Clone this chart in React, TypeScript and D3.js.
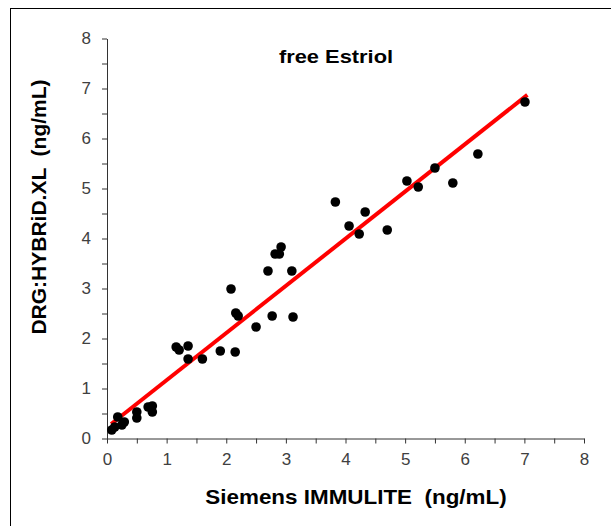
import { useEffect, useRef } from 'react';
import { select, scaleLinear, axisBottom, axisLeft, range, line } from 'd3';

// ============================================
// DATA
// ============================================

// Siemens IMMULITE (x) vs DRG:HYBRiD.XL (y), ng/mL
const immulite = [
  0.08, 0.13, 0.18, 0.25, 0.29, 0.5, 0.5, 0.69, 0.76, 0.76,
  1.16, 1.21, 1.36, 1.36, 1.6, 1.9, 2.15, 2.08, 2.16, 2.2,
  2.5, 2.7, 2.77, 2.82, 2.89, 2.92, 3.1, 3.12, 3.83, 4.06,
  4.23, 4.33, 4.7, 5.03, 5.22, 5.5, 5.8, 6.22, 7.01,
];
const hybrid = [
  0.17, 0.23, 0.43, 0.27, 0.33, 0.53, 0.41, 0.63, 0.65, 0.53,
  1.83, 1.77, 1.85, 1.59, 1.59, 1.75, 1.73, 2.99, 2.51, 2.45,
  2.23, 3.35, 2.45, 3.69, 3.69, 3.83, 3.35, 2.43, 4.73, 4.25,
  4.09, 4.53, 4.17, 5.15, 5.03, 5.41, 5.11, 5.69, 6.73,
];

// linear fit
const fitSlope = 0.943;
const fitIntercept = 0.224;
const fitFrom = 0.07;
const fitTo = 7.05;

const axisMax = 8;
const majorTicks = range(0, axisMax + 0.01, 1);
const minorTicks = range(0, axisMax + 0.01, 0.5);

const title = 'free Estriol';
const xTitle = 'Siemens IMMULITE  (ng/mL)';
const yTitle = 'DRG:HYBRiD.XL  (ng/mL)';

// ============================================
// COMPONENT
// ============================================

const W = 611;
const H = 526;
const FONT = '"Liberation Sans", Arial, sans-serif';
const STRETCH = 1.15;

export default function App() {
  const svgRef = useRef<SVGSVGElement>(null);

  useEffect(() => {
    if (!svgRef.current) return;
    const svg = select(svgRef.current);
    svg.selectAll('*').remove();

    const x = scaleLinear().domain([0, axisMax]).range([107, 584]);
    const y = scaleLinear().domain([0, axisMax]).range([438.5, 38.5]);

    // chart frame (cropped on right/bottom)
    svg
      .append('rect')
      .attr('x', 10.5)
      .attr('y', 8.5)
      .attr('width', 700)
      .attr('height', 700)
      .attr('fill', '#fff')
      .attr('stroke', '#000')
      .attr('stroke-width', 1);

    const fmt = (d: number) => (majorTicks.includes(d) ? String(d) : '');

    // X axis
    const xAxis = svg
      .append('g')
      .attr('transform', `translate(0,${y(0)})`)
      .call(axisBottom(x).tickValues(minorTicks).tickSize(5).tickSizeOuter(0).tickPadding(9).tickFormat((d) => fmt(d as number)));
    xAxis.select('.domain').attr('stroke', '#333');
    xAxis.selectAll('line').attr('stroke', '#333');
    xAxis.selectAll('text').attr('font-size', 17).attr('font-family', FONT).attr('fill', '#404040');

    // Y axis
    const yAxis = svg
      .append('g')
      .attr('transform', `translate(${x(0)},0)`)
      .call(axisLeft(y).tickValues(minorTicks).tickSize(5).tickSizeOuter(0).tickPadding(11).tickFormat((d) => fmt(d as number)));
    yAxis.select('.domain').attr('stroke', '#333');
    yAxis.selectAll('line').attr('stroke', '#333');
    yAxis.selectAll('text').attr('font-size', 17).attr('font-family', FONT).attr('fill', '#404040');

    // regression line
    const fit = line<number>()
      .x((d) => x(d))
      .y((d) => y(fitSlope * d + fitIntercept));
    svg
      .append('path')
      .datum([fitFrom, fitTo])
      .attr('d', fit)
      .attr('fill', 'none')
      .attr('stroke', '#ff0000')
      .attr('stroke-width', 4);

    // points
    svg
      .append('g')
      .selectAll('circle')
      .data(immulite)
      .enter()
      .append('circle')
      .attr('cx', (d) => x(d))
      .attr('cy', (_, i) => y(hybrid[i]))
      .attr('r', 4.8)
      .attr('fill', '#000');

    // titles
    svg
      .append('text')
      .attr('transform', `translate(336,63) scale(${STRETCH},1)`)
      .attr('text-anchor', 'middle')
      .attr('font-family', FONT)
      .attr('font-weight', 'bold')
      .attr('font-size', 19)
      .text(title);

    svg
      .append('text')
      .attr('transform', `translate(356,504) scale(${STRETCH},1)`)
      .attr('text-anchor', 'middle')
      .attr('font-family', FONT)
      .attr('font-weight', 'bold')
      .attr('font-size', 19.5)
      .style('white-space', 'pre')
      .text(xTitle);

    svg
      .append('text')
      .attr('transform', 'translate(46,207) rotate(-90)')
      .attr('text-anchor', 'middle')
      .attr('font-family', FONT)
      .attr('font-weight', 'bold')
      .attr('font-size', 21)
      .style('white-space', 'pre')
      .text(yTitle);
  }, []);

  return (
    <svg
      ref={svgRef}
      width={W}
      height={H}
      style={{ position: 'absolute', left: 0, top: 0, display: 'block', background: '#fff' }}
    />
  );
}
